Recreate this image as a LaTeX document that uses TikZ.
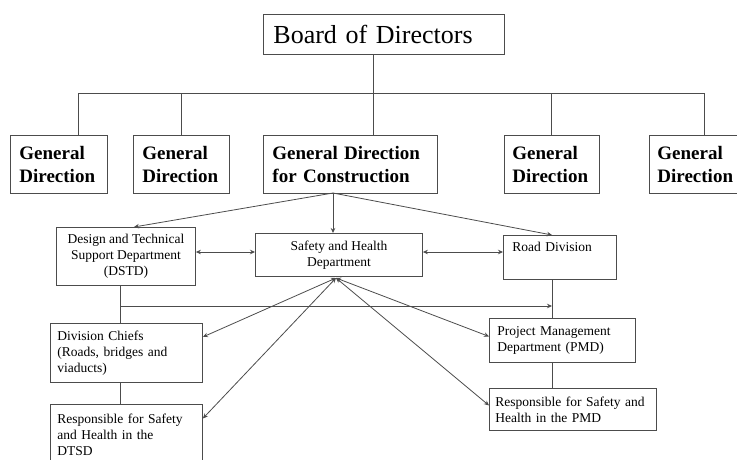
\documentclass[tikz,border=0pt]{standalone}
\usepackage{fontspec}
\setmainfont{Liberation Serif}
\usetikzlibrary{arrows.meta}
\begin{document}
\begin{tikzpicture}[x=1pt,y=-1pt,
  box/.style={draw=black!70,line width=0.9pt,anchor=north west,inner ysep=0pt,fill=white},
  bigt/.style={font=\fontsize{26}{29}\selectfont},
  gent/.style={font=\fontsize{19}{23}\selectfont\bfseries,align=left},
  smallt/.style={font=\fontsize{13.5}{16}\selectfont},
  ln/.style={draw=black!70,line width=0.8pt},
  arr/.style={ln,-{Stealth[length=5pt,width=4.5pt]}},
  arrs/.style={ln,{Stealth[length=5pt,width=4.5pt]}-{Stealth[length=5pt,width=4.5pt]}}]
\useasboundingbox (0,0) rectangle (737,459);
% top
\node[box,bigt,minimum width=241pt,minimum height=40pt,inner xsep=10pt,text width=221pt,align=left] (board) at (263,14) {Board of Directors};
\node[box,gent,minimum width=97pt,minimum height=58pt,inner xsep=9pt,text width=79pt] (g1) at (10,135) {General\\Direction};
\node[box,gent,minimum width=96pt,minimum height=58pt,inner xsep=9pt,text width=78pt] (g2) at (133,135) {General\\Direction};
\node[box,gent,minimum width=174pt,minimum height=58pt,inner xsep=9pt,text width=156pt] (gdc) at (263,135) {General Direction\\for Construction};
\node[box,gent,minimum width=95pt,minimum height=58pt,inner xsep=8pt,text width=79pt] (g4) at (504,135) {General\\Direction};
\node[box,gent,minimum width=96pt,minimum height=58pt,inner xsep=8pt,text width=80pt] (g5) at (649,135) {General\\Direction};
% bus
\coordinate (d1) at (78,93);
\coordinate (d2) at (181,93);
\coordinate (d3) at (373,93);
\coordinate (d4) at (551,93);
\coordinate (d5) at (704,93);
\draw[ln] (d3 |- board.south) -- (d3);
\draw[ln] (d1) -- (d5);
\foreach \d/\n in {d1/g1,d2/g2,d3/gdc,d4/g4,d5/g5} \draw[ln] (\d) -- (\d |- \n.north);
% lower boxes
\node[box,smallt,minimum width=139pt,minimum height=58pt,inner xsep=4pt,align=center] (dstd) at (56,227) {Design and Technical\\Support Department\\(DSTD)};
\node[box,smallt,minimum width=167pt,minimum height=43pt,inner xsep=4pt,align=center] (safety) at (255,233) {Safety and Health\\Department};
\node[box,smallt,minimum width=113pt,minimum height=44pt,inner xsep=9pt,text width=95pt,align=left] (road) at (503,235) {Road Division\\\strut};
\node[box,smallt,minimum width=146pt,minimum height=44pt,inner xsep=8pt,text width=130pt,align=left] (pmd) at (489,318) {Project Management\\Department (PMD)};
\node[box,smallt,minimum width=167pt,minimum height=42pt,inner xsep=6pt,text width=155pt,align=left] (respP) at (489,388) {Responsible for Safety and\\Health in the PMD};
\node[box,smallt,minimum width=152pt,minimum height=59pt,inner xsep=7pt,text width=138pt,align=left] (divch) at (50,323) {Division Chiefs\\(Roads, bridges and\\viaducts)};
\node[box,smallt,minimum width=152pt,minimum height=60pt,inner xsep=7pt,text width=138pt,align=left] (respD) at (50,404) {Responsible for Safety\\and Health in the\\DTSD};
% connectors
\coordinate (go) at (333,193);
\coordinate (lv) at (120,306);
\coordinate (rv) at (552,306);
\coordinate (hy) at (0,252);
\coordinate (sh) at (336,278);
\draw[arr] (go) -- ([xshift=8pt]dstd.north);
\draw[arr] (go) -- (go |- safety.north);
\draw[arr] (go) -- (rv |- road.north);
\draw[arrs] (dstd.east |- hy) -- (safety.west |- hy);
\draw[arrs] (safety.east |- hy) -- (road.west |- hy);
\draw[ln] (lv |- dstd.south) -- (lv |- divch.north);
\draw[ln] (lv |- divch.south) -- (lv |- respD.north);
\draw[arr] (lv) -- (rv);
\draw[ln] (rv |- road.south) -- (rv |- pmd.north);
\draw[ln] (rv |- pmd.south) -- (rv |- respP.north);
\draw[arrs] (sh) -- ([yshift=16pt]divch.east);
\draw[arrs] (sh) -- ([yshift=16pt]respD.east);
\draw[arrs] (sh) -- ([yshift=4pt]pmd.west);
\draw[arrs] (sh) -- ([yshift=4pt]respP.west);
\end{tikzpicture}
\end{document}
